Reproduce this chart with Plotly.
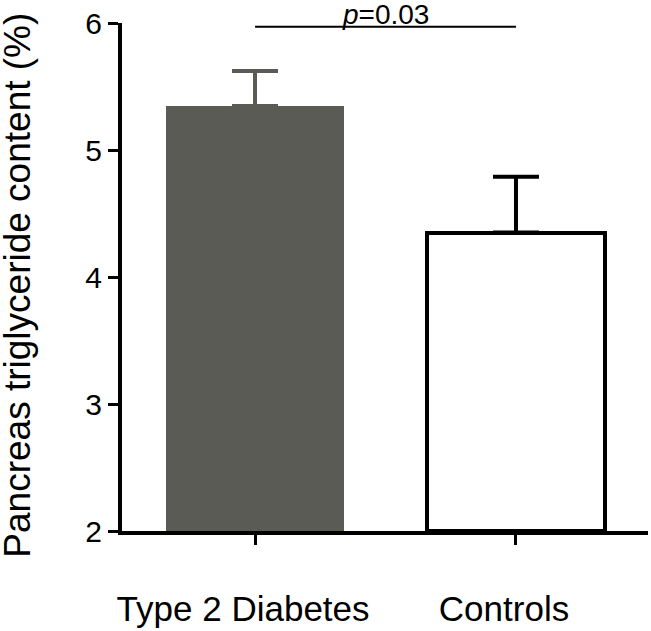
import plotly.graph_objects as go

categories = ["Type 2 Diabetes", "Controls"]
means = [5.35, 4.35]
errors_up = [0.27, 0.44]
fill_colors = ["#5a5b55", "#ffffff"]
line_colors = ["#5a5b55", "#000000"]
bracket_y = 5.97
p_label = "<i>p</i>=0.03"
y_title = "Pancreas triglyceride content (%)"
y_ticks = [2, 3, 4, 5, 6]

FONT = "Liberation Sans, Arial, sans-serif"

fig = go.Figure()
for i, cat in enumerate(categories):
    fig.add_trace(go.Bar(
        x=[cat], y=[means[i] - 2], base=2,
        width=0.68,
        marker=dict(color=fill_colors[i],
                    line=dict(color=line_colors[i], width=4 if i == 1 else 0)),
        error_y=dict(type="data", symmetric=False, array=[errors_up[i]],
                     arrayminus=[0], color=line_colors[i], thickness=4, width=23),
        showlegend=False,
    ))

fig.add_shape(type="line", xref="x", yref="y", x0=0, x1=1, y0=bracket_y, y1=bracket_y,
              line=dict(color="black", width=2))
fig.add_annotation(x=0.5, y=bracket_y, xref="x", yref="y", text=p_label,
                   showarrow=False, yanchor="bottom", yshift=-5,
                   font=dict(family=FONT, size=28, color="black"))
fig.add_annotation(x=-0.1977, y=0.483, xref="paper", yref="paper", text=y_title,
                   textangle=-90, showarrow=False, xanchor="center", yanchor="middle",
                   font=dict(family=FONT, size=37, color="black"))

fig.update_layout(
    width=651, height=631,
    margin=dict(l=122, r=3, t=23, b=87),
    plot_bgcolor="white", paper_bgcolor="white",
    font=dict(family=FONT, color="black"),
    bargap=0,
)
fig.update_xaxes(
    type="category", categoryorder="array", categoryarray=categories,
    range=[-0.51, 1.506],
    showline=True, linecolor="black", linewidth=4,
    ticks="outside", ticklen=10, tickwidth=3, tickcolor="black",
    tickfont=dict(family=FONT, size=35, color="black"),
    ticklabelstandoff=34, ticklabelshift=-12,
    showgrid=False, zeroline=False,
)
fig.update_yaxes(
    range=[2, 6], tickvals=y_ticks,
    showline=True, linecolor="black", linewidth=4,
    ticks="outside", ticklen=10, tickwidth=3, tickcolor="black",
    tickfont=dict(family=FONT, size=30, color="black"),
    showgrid=False, zeroline=False,
)

fig.write_html("out.html", config={"displayModeBar": False},
               post_script="document.body.style.margin='0';document.body.style.overflow='hidden';")
